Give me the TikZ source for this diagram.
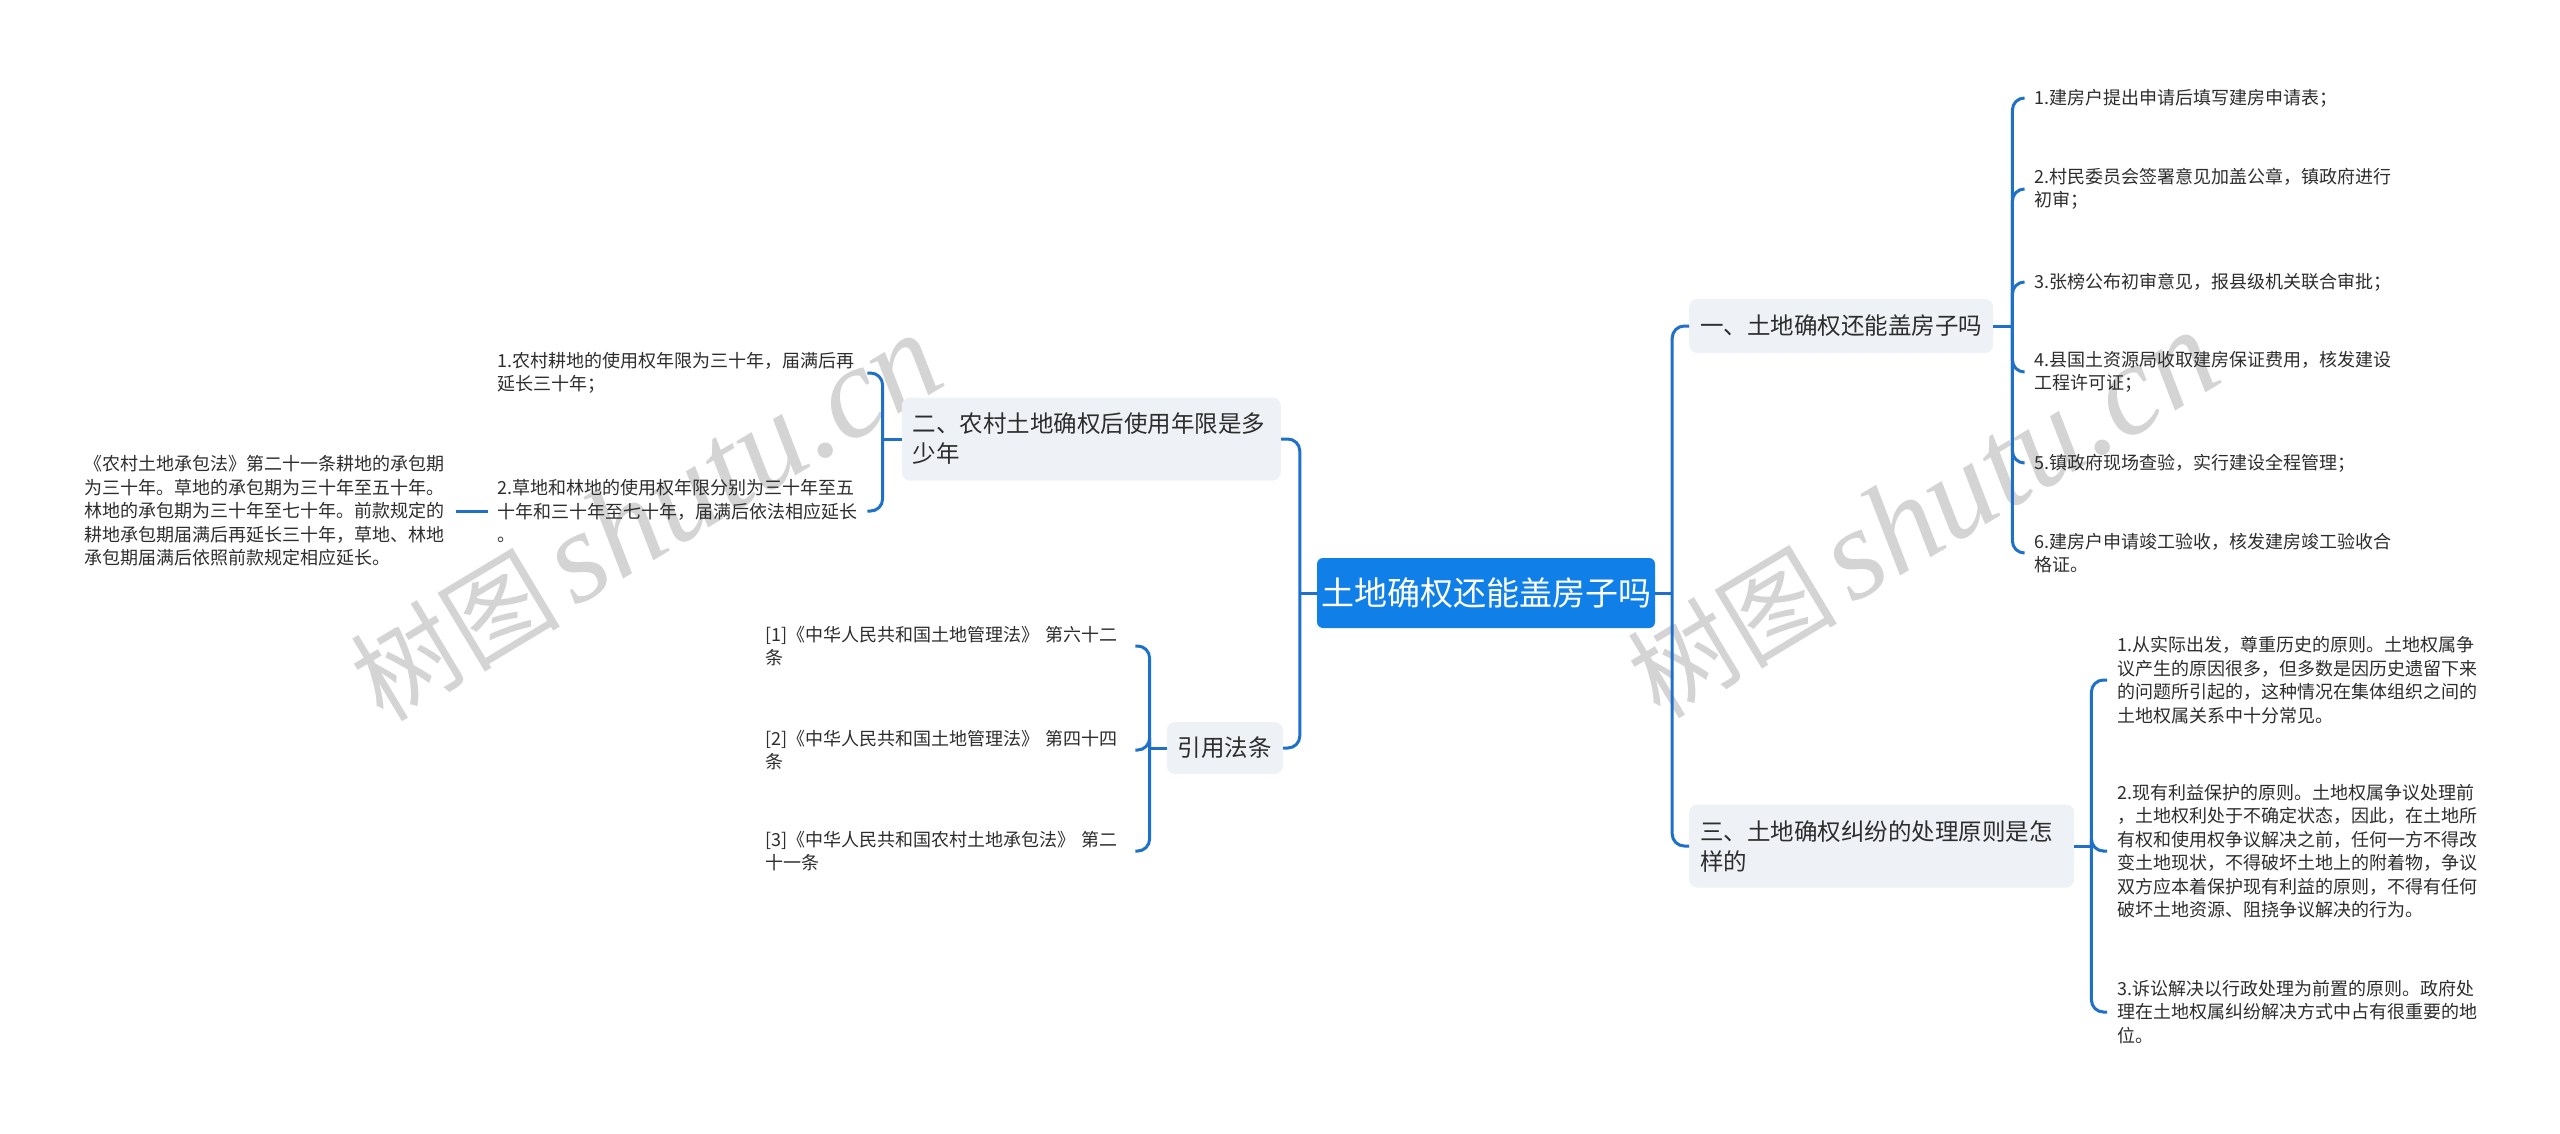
\documentclass[tikz,border=0pt]{standalone}
\usepackage{fontspec}
\setmainfont{Noto Sans CJK SC}
\newfontfamily\wmlatin{Liberation Serif}
\definecolor{linec}{RGB}{30,112,200}
\definecolor{rootc}{RGB}{16,128,232}
\definecolor{boxc}{RGB}{238,241,245}
\definecolor{txtc}{RGB}{45,45,45}
\definecolor{wmc}{RGB}{212,212,212}
\begin{document}
\begin{tikzpicture}[x=1pt,y=-1pt,
  conn/.style={draw=linec,line width=3pt},
  bra/.style={conn,rounded corners=12pt},
  rootbox/.style={fill=rootc,rounded corners=6pt,text=white,font=\fontsize{33}{40}\selectfont,minimum width=338pt,minimum height=70pt,inner sep=0pt},
  topic/.style={fill=boxc,rounded corners=8pt,text=txtc,font=\fontsize{23.5}{30}\selectfont,align=left,inner xsep=11pt,inner ysep=0pt,anchor=west},
  leaf/.style={text=txtc,font=\fontsize{18}{23.5}\selectfont,align=left,text width=370pt,inner sep=0pt},
  wm/.style={text=wmc,rotate=31,inner sep=0pt}
]
\useasboundingbox (0,0) rectangle (2560,1133);

% watermarks
\node[wm] (wm1) at (646,518) {\fontsize{105}{105}\selectfont 树图\hspace{14pt}{\wmlatin\itshape\fontsize{130}{130}\selectfont shutu.cn}};
\node[wm] (wm2) at (1923,515) {\fontsize{105}{105}\selectfont 树图\hspace{14pt}{\wmlatin\itshape\fontsize{130}{130}\selectfont shutu.cn}};

% root
\node[rootbox] (root) at (1486,593) {土地确权还能盖房子吗};

% main topics
\node[topic, minimum width=301pt, minimum height=54pt] (t1) at (1689,326) {一、土地确权还能盖房子吗};
\node[topic, text width=363pt, minimum height=83pt] (t3) at (1689,846) {三、土地确权纠纷的处理原则是怎\\样的};
\node[topic, anchor=east, text width=357pt, minimum height=83pt] (t2) at (1281,439) {二、农村土地确权后使用年限是多\\少年};
\node[topic, anchor=east, minimum width=115pt, minimum height=52pt] (t4) at (1283,748) {引用法条};

% branch one leaves
\node[leaf, anchor=west] (a1) at (2034,98) {1.建房户提出申请后填写建房申请表；};
\node[leaf, anchor=west] (a2) at (2034,189) {2.村民委员会签署意见加盖公章，镇政府进行\\初审；};
\node[leaf, anchor=west] (a3) at (2034,282) {3.张榜公布初审意见，报县级机关联合审批；};
\node[leaf, anchor=west] (a4) at (2034,372) {4.县国土资源局收取建房保证费用，核发建设\\工程许可证；};
\node[leaf, anchor=west] (a5) at (2034,463) {5.镇政府现场查验，实行建设全程管理；};
\node[leaf, anchor=west] (a6) at (2034,553) {6.建房户申请竣工验收，核发建房竣工验收合\\格证。};

% branch three leaves
\node[leaf, anchor=west] (c1) at (2117,680) {1.从实际出发，尊重历史的原则。土地权属争\\议产生的原因很多，但多数是因历史遗留下来\\的问题所引起的，这种情况在集体组织之间的\\土地权属关系中十分常见。};
\node[leaf, anchor=west] (c2) at (2117,851) {2.现有利益保护的原则。土地权属争议处理前\\，土地权利处于不确定状态，因此，在土地所\\有权和使用权争议解决之前，任何一方不得改\\变土地现状，不得破坏土地上的附着物，争议\\双方应本着保护现有利益的原则，不得有任何\\破坏土地资源、阻挠争议解决的行为。};
\node[leaf, anchor=west] (c3) at (2117,1012) {3.诉讼解决以行政处理为前置的原则。政府处\\理在土地权属纠纷解决方式中占有很重要的地\\位。};

% branch two leaves
\node[leaf, anchor=west] (b1) at (497,373) {1.农村耕地的使用权年限为三十年，届满后再\\延长三十年；};
\node[leaf, anchor=west] (b2) at (497,511) {2.草地和林地的使用权年限分别为三十年至五\\十年和三十年至七十年，届满后依法相应延长\\。};
\node[leaf, anchor=west] (lf) at (84,511) {《农村土地承包法》第二十一条耕地的承包期\\为三十年。草地的承包期为三十年至五十年。\\林地的承包期为三十年至七十年。前款规定的\\耕地承包期届满后再延长三十年，草地、林地\\承包期届满后依照前款规定相应延长。};

% references
\node[leaf, anchor=west] (r1) at (765,646) {[1]《中华人民共和国土地管理法》 第六十二\\条};
\node[leaf, anchor=west] (r2) at (765,750) {[2]《中华人民共和国土地管理法》 第四十四\\条};
\node[leaf, anchor=west] (r3) at (765,851) {[3]《中华人民共和国农村土地承包法》 第二\\十一条};

% trunks
\draw[conn] (root.east) -- ++(17,0) coordinate (rj);
\draw[bra] (rj) |- (t1.west);
\draw[bra] (rj) |- (t3.west);
\draw[conn] (root.west) -- ++(-17,0) coordinate (lj);
\draw[bra] (lj) |- (t2.east);
\draw[bra] (lj) |- (t4.east);

% branch one
\draw[conn] (t1.east) -- ++(19,0) coordinate (j1);
\foreach \n in {a1,a2,a3,a4,a5,a6} \draw[bra] (j1) |- ([xshift=-10pt]\n.west);

% branch three
\draw[conn] (t3.east) -- ++(17,0) coordinate (j3);
\foreach \n in {c1,c2,c3} \draw[bra] (j3) |- ([xshift=-10pt]\n.west);

% branch two
\draw[conn] (t2.west) -- ++(-19,0) coordinate (j2);
\foreach \n in {b1,b2} \draw[bra] (j2) |- (\n.east);
\draw[conn] ([xshift=2pt]lf.east) -- ([xshift=-9pt]b2.west);

% references
\draw[conn] (t4.west) -- ++(-17,0) coordinate (j4);
\foreach \n in {r1,r2,r3} \draw[bra] (j4) |- (\n.east);
\end{tikzpicture}
\end{document}
